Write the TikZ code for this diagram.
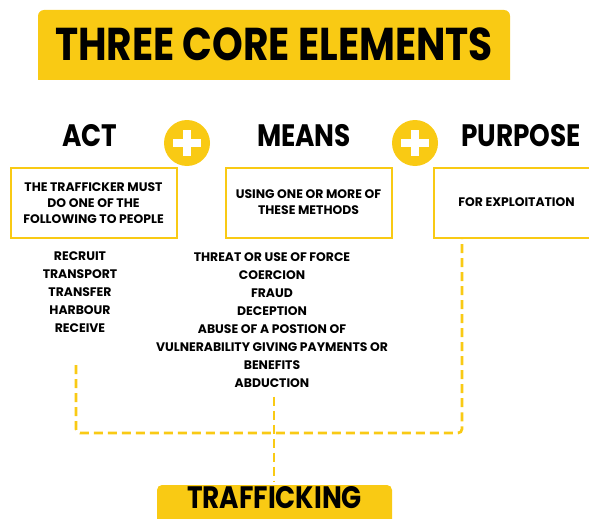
\documentclass[tikz,border=0pt]{standalone}
\usepackage{fontspec}
\setmainfont{Poppins}[FakeStretch=0.85]
\newfontfamily\listfont{Poppins}
\definecolor{coreyellow}{RGB}{249,202,20}

\tikzset{
  banner/.style={font=\bfseries\fontsize{46}{46}\selectfont, inner sep=0pt},
  headline/.style={font=\bfseries\fontsize{31}{31}\selectfont, inner sep=0pt},
  itembox/.style={draw=coreyellow, line width=2pt, minimum width=166pt,
    minimum height=70pt, align=center, font=\listfont\bfseries\fontsize{12.4}{16}\selectfont},
  itemlist/.style={align=center, inner sep=0pt, font=\listfont\bfseries\fontsize{12.4}{18}\selectfont},
  plusdisc/.style={circle, fill=coreyellow, minimum size=46pt, inner sep=0pt},
  plusbar/.style={white, line width=8pt},
  dashlink/.style={coreyellow, line width=2.7pt, dash pattern=on 9pt off 5pt}
}

\begin{document}
\begin{tikzpicture}[x=1pt,y=-1pt]
  \useasboundingbox (0,0) rectangle (589,519);

  % banner on top
  \fill[coreyellow] (38,80) [rounded corners=6pt] -- (38,10) -- (510,10)
    [sharp corners] -- (510,80) -- cycle;
  \node[banner] (title) at (274,44) {THREE CORE ELEMENTS};

  % the three headings and the plus signs between them
  \node[headline] (act) at (90,136) {ACT};
  \node[headline] (means) at (304,136) {MEANS};
  \node[headline] (purpose) at (521,136) {PURPOSE};
  \node[plusdisc] (plusA) at (187,143) {};
  \node[plusdisc] (plusB) at (415,143) {};
  \foreach \p in {plusA,plusB} {
    \draw[plusbar] ([xshift=-14pt]\p.center) -- ([xshift=14pt]\p.center);
    \draw[plusbar] ([yshift=-13pt]\p.center) -- ([yshift=13pt]\p.center);
  }

  % boxes
  \node[itembox] (actbox) at (93.5,203)
    {THE TRAFFICKER MUST\\DO ONE OF THE\\FOLLOWING TO PEOPLE};
  \node[itembox] (meansbox) at (308.5,202.5)
    {USING ONE OR MORE OF\\THESE METHODS};
  \node[itembox] (purposebox) at (516.5,202.5) {FOR EXPLOITATION};

  % what goes under each
  \node[itemlist] (actlist) at (80,292)
    {RECRUIT\\TRANSPORT\\TRANSFER\\HARBOUR\\RECEIVE};
  \node[itemlist] (meanslist) at (272,320)
    {THREAT OR USE OF FORCE\\COERCION\\FRAUD\\DECEPTION\\ABUSE OF A POSTION OF\\
     VULNERABILITY GIVING PAYMENTS OR\\BENEFITS\\ABDUCTION};

  % result at the bottom
  \fill[coreyellow, rounded corners=5pt] (157,485) rectangle (392,545);
  \node[headline] (trafficking) at (274.5,498) {TRAFFICKING};

  % dashed joins
  \coordinate (actdrop) at (76,365);
  \coordinate (joint) at (274,433);
  \coordinate (purpdrop) at (462,238);
  \draw[dashlink, rounded corners=4pt] (actdrop) |- (joint) -| (purpdrop);
  \draw[dashlink, shorten <=9pt, shorten >=6pt] (meanslist.south -| joint) -- (trafficking.north -| joint);
\end{tikzpicture}
\end{document}
